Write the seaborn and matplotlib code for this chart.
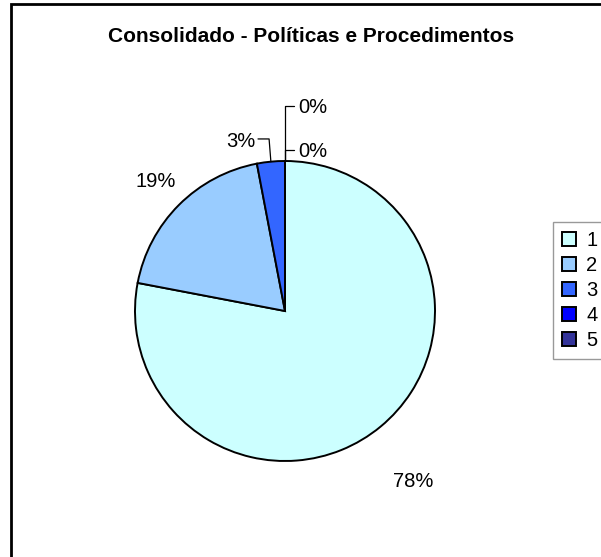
import numpy as np
import seaborn as sns
import matplotlib
matplotlib.use("Agg")
import matplotlib.pyplot as plt
from matplotlib.patches import Rectangle

sns.set_theme(style="white")
plt.rcParams['font.family'] = ['Liberation Sans', 'DejaVu Sans']
plt.rcParams['text.color'] = 'black'

# data
categories = ["1", "2", "3", "4", "5"]
shares = [78, 19, 3, 0, 0]
pct_labels = ["78%", "19%", "3%", "0%", "0%"]
colors = ["#CCFFFF", "#99CCFF", "#3366FF", "#0000FF", "#333399"]
title = "Consolidado - Políticas e Procedimentos"

W, H = 601, 557
fig = plt.figure(figsize=(W / 100, H / 100), dpi=100)
fig.patch.set_facecolor("white")
ax = fig.add_axes([0, 0, 1, 1])

wedges, _ = ax.pie(shares, colors=colors, startangle=90, counterclock=False,
                   radius=1, center=(0, 0),
                   wedgeprops=dict(edgecolor="black", linewidth=1.4))

# one data unit = 150 px, pie centre at (285, 311) px
cx, cy, R = 285, 311, 150
ax.set_xlim(-cx / R, (W - cx) / R)
ax.set_ylim(-(H - cy) / R, cy / R)
ax.set_aspect("auto")
ax.axis("off")

# percentage labels
fs = 14.5
bounds = np.cumsum([0] + shares) / sum(shares)
mids = [90 - 360 * (bounds[i] + bounds[i + 1]) / 2 for i in range(len(shares))]

# big slices: plain labels outside
for i, r, da in [(0, 1.42, -2.6), (1, 1.22, 0)]:
    a = np.deg2rad(mids[i] + da)
    ax.text(r * np.cos(a), r * np.sin(a), pct_labels[i], ha="center", va="center",
            fontsize=fs, color="black")

# 3% slice with leader line
a = np.deg2rad(mids[2])
ex, ey = np.cos(a), np.sin(a)
ax.plot([ex, ex - 0.012, -0.18], [ey, 1.147, 1.147], color="black", lw=0.9)
ax.text(-0.20, 1.13, pct_labels[2], ha="right", va="center", fontsize=fs)

# zero slices at the top, stacked leader lines
a = np.deg2rad(mids[3])
tx, ty = np.cos(a), np.sin(a)
for i, ly in [(4, 1.07), (3, 1.367)]:
    ax.plot([tx, tx, tx + 0.06], [ty, ly, ly], color="black", lw=0.9)
    ax.text(tx + 0.09, ly - 0.01, pct_labels[i], ha="left", va="center", fontsize=fs)

fig.text(311 / W, 1 - 36 / H, title, ha="center", va="center",
         fontsize=15, fontweight="bold", color="black")

leg = ax.legend(wedges, categories, loc="upper left",
                bbox_to_anchor=(553 / W, 1 - 222 / H), bbox_transform=fig.transFigure,
                frameon=True, fancybox=False, fontsize=fs, handlelength=0.7,
                handleheight=0.7, handletextpad=0.5, labelspacing=0.3,
                borderaxespad=0, borderpad=0.45)
leg.get_frame().set_edgecolor("#808080")
leg.get_frame().set_linewidth(1.0)

# chart area border
fig.add_artist(Rectangle((11 / W, -0.05), 1.0, (H - 4) / H + 0.05, fill=False,
                         edgecolor="black", linewidth=2, transform=fig.transFigure))

fig.savefig("out.png", dpi=100)
